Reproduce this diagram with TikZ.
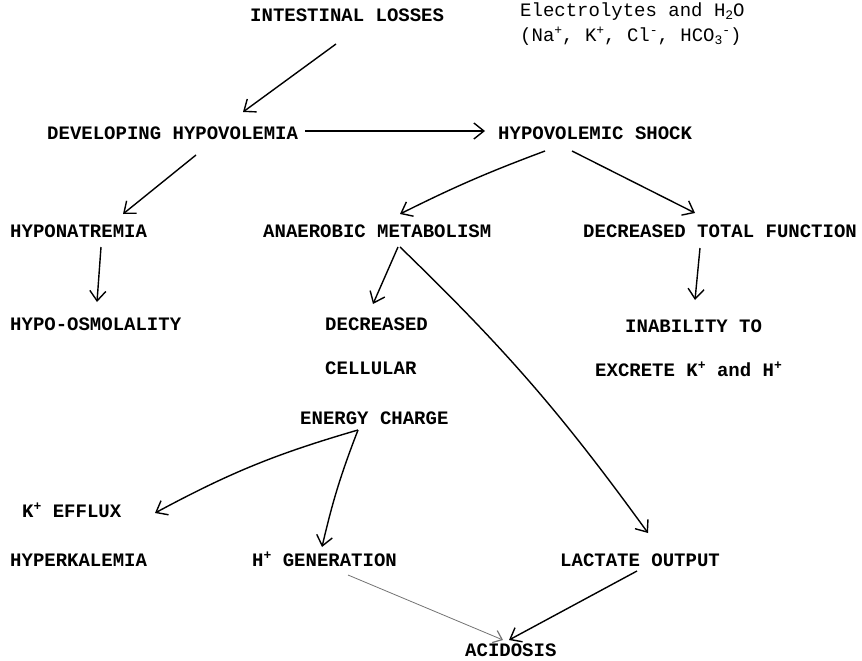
\documentclass[tikz,border=0pt]{standalone}
\usepackage{fontspec}
\setmainfont{Liberation Mono}
\usetikzlibrary{arrows.meta}
\tikzset{
  lbl/.style={anchor=west, inner sep=0pt, text height=13pt, text depth=0pt,
    font=\fontsize{19}{24}\selectfont\bfseries},
  note/.style={anchor=north west, inner sep=0pt, align=left,
    font=\fontsize{19}{25}\selectfont},
  conn/.style={line width=1.4pt, -{Straight Barb[length=10pt,width=16pt,line width=1.4pt]}},
  faint/.style={line width=0.8pt, draw=black!55, -{Straight Barb[length=8pt,width=13pt,line width=1.2pt]}}
}
\newcommand{\sps}[1]{\raisebox{0.38em}{\fontsize{13}{13}\selectfont #1}}
\newcommand{\sbs}[1]{\raisebox{-0.12em}{\fontsize{13}{13}\selectfont #1}}
\begin{document}
\begin{tikzpicture}[x=1pt,y=-1pt]
\useasboundingbox (0,0) rectangle (862,661);
\node[lbl] (il) at (250,15) {INTESTINAL LOSSES};
\node[note] (el) at (520,3)
  {Electrolytes and H\sbs{2}O\\(Na\sps{+}, K\sps{+}, Cl\sps{-}, HCO\sbs{3}\sps{-})};
\node[lbl] (dh) at (47,133) {DEVELOPING HYPOVOLEMIA};
\node[lbl] (hs) at (498,133) {HYPOVOLEMIC SHOCK};
\node[lbl] (hn) at (10,231) {HYPONATREMIA};
\node[lbl] (am) at (263,231) {ANAEROBIC METABOLISM};
\node[lbl] (dtf) at (583,231) {DECREASED TOTAL FUNCTION};
\node[lbl] (ho) at (10,324) {HYPO-OSMOLALITY};
\node[lbl] (dc1) at (325,324) {DECREASED};
\node[lbl] (dc2) at (325,368) {CELLULAR};
\node[lbl] (dc3) at (300,418) {ENERGY CHARGE};
\node[lbl] (in1) at (625,326) {INABILITY TO};
\node[lbl] (in2) at (595,370) {EXCRETE K\sps{+} and H\sps{+}};
\node[lbl] (kef) at (22,511) {K\sps{+} EFFLUX};
\node[lbl] (hk) at (10,560) {HYPERKALEMIA};
\node[lbl] (hg) at (252,560) {H\sps{+} GENERATION};
\node[lbl] (lo) at (560,560) {LACTATE OUTPUT};
\node[lbl] (ac) at (465,650) {ACIDOSIS};

\draw[conn] ([shift={(86,29)}]il.west) -- ([shift={(196,-21)}]dh.west);
\draw[conn] ([shift={(7,-2)}]dh.east) -- ([shift={(-13,-2)}]hs.west);
\draw[conn] ([shift={(149,22)}]dh.west) -- ([shift={(113,-17)}]hn.west);
\draw[conn] ([shift={(91,16)}]hn.west) -- ([shift={(87,-22)}]ho.west);
\draw[conn] ([shift={(47,18)}]hs.west) to[bend right=3] ([shift={(137,-17)}]am.west);
\draw[conn] ([shift={(74,18)}]hs.west) -- ([shift={(112,-18)}]dtf.west);
\draw[conn] ([shift={(117,17)}]dtf.west) -- ([shift={(70,-26)}]in1.west);
\draw[conn] ([shift={(135,16)}]am.west) -- ([shift={(48,-20)}]dc1.west);
\draw[conn] ([shift={(137,16)}]am.west) to[bend left=5] ([shift={(88,-27)}]lo.west);
\draw[conn] ([shift={(58,12)}]dc3.west) to[bend right=6] ([shift={(133,2)}]kef.west);
\draw[conn] ([shift={(58,12)}]dc3.west) to[bend right=4] ([shift={(70,-13)}]hg.west);
\draw[faint] ([shift={(96,15)}]hg.west) -- ([shift={(38,-10)}]ac.west);
\draw[conn] ([shift={(77,11)}]lo.west) -- ([shift={(44,-10)}]ac.west);
\end{tikzpicture}
\end{document}
